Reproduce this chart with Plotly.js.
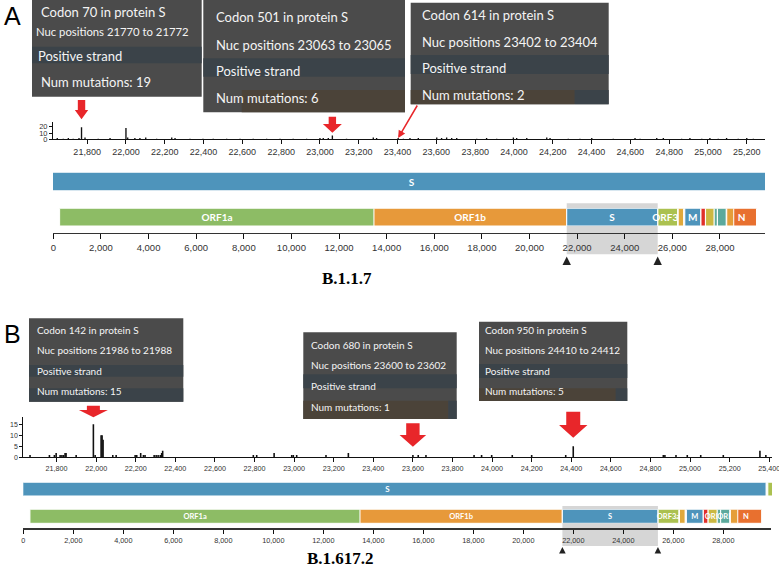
<!DOCTYPE html>
<html><head><meta charset="utf-8">
<script src="https://cdn.plot.ly/plotly-3.0.1.min.js"></script>
<style>body{margin:0;background:#fff}#chart{width:779px;height:568px}</style>
</head><body><div id="chart"></div>
<script>
// ---------- data ----------
const geneNames  = ['ORF1a','ORF1b','S','ORF3a','E','M','ORF6','ORF7a','ORF7b','ORF8','N','ORF9b'];
const geneStart  = [266, 13468, 21563, 25393, 26245, 26523, 27202, 27394, 27756, 27894, 28274, 28284];
const geneEnd    = [13483, 21555, 25384, 26220, 26472, 27191, 27387, 27759, 27887, 28259, 29533, 28577];
const geneColors = ['#8dbc65','#e7993a','#4e94bb','#abc150','#e0a93b','#4e94bb','#e0302a','#cbb842','#62ab99','#5ba99c','#e8702f','#e59e39'];
const geneLabelsA = ['ORF1a','ORF1b','S','ORF3a','','M','','','','','N',''];
const geneLabelsB = ['ORF1a','ORF1b','S','ORF3a','','M','','ORF','','ORF','N',''];
const zoomLabels  = ['','','S','','','','','','','','',''];

// B.1.1.7 mutations in S (nucleotide position, count)
const posA = [21646,21677,21703,21728,21758,21771,21789,21857,21918,22000,
              22009,22046,22072,22102,22158,22236,22253,22330,22397,22450,
              22519,22588,22656,22725,22794,22862,22931,23000,23017,23043,
              23064,23137,23275,23292,23403,23430,23464,23507,23602,23627,
              23653,23679,23705,23808,23859,23911,23997,24014,24066,24169,
              24186,24280,24340,24401,24512,24624,24650,24736,24770,24864,
              24907,24968,25010,25053,25096,25156,25200,25234];
const cntA = [2,1,2,1,2,19,3,1,2,18,
              3,2,2,3,1,3,2,1,1,1,
              1,1,1,1,1,1,1,2,2,2,
              6,1,3,2,2,1,2,2,3,2,
              3,2,2,1,2,1,3,2,2,3,
              2,1,1,2,1,2,1,2,2,1,
              2,1,2,1,2,1,2,1];
// B.1.617.2 mutations in S
const posB = [21666,21764,21789,21798,21818,21827,21835,21843,21848,21899,
              21986,21995,22025,22030,22035,22084,22101,22197,22205,22225,
              22239,22247,22293,22303,22313,22324,22331,22336,22794,22811,
              22899,22988,22996,23013,23161,23274,23600,23627,23666,23909,
              23947,23998,24102,24200,24372,24410,24865,24873,24929,24986,
              25054,25168,25353,25383];
const cntB = [1,1,1,2,1,1,1,2,2,1,
              15,1,10,10,8,1,1,1,1,2,
              1,1,1,1,1,1,2,3,1,1,
              2,1,1,1,1,2,1,1,1,1,
              1,1,1,1,1,5,1,1,1,1,
              1,1,3,1];
const yTicksA = [0,10,20];
const yTicksB = [0,5,10,15];

const tipsA = [
  ['Codon 70 in protein S','Nuc positions 21770 to 21772','Positive strand','Num mutations: 19'],
  ['Codon 501 in protein S','Nuc positions 23063 to 23065','Positive strand','Num mutations: 6'],
  ['Codon 614 in protein S','Nuc positions 23402 to 23404','Positive strand','Num mutations: 2']
];
const tipsB = [
  ['Codon 142 in protein S','Nuc positions 21986 to 21988','Positive strand','Num mutations: 15'],
  ['Codon 680 in protein S','Nuc positions 23600 to 23602','Positive strand','Num mutations: 1'],
  ['Codon 950 in protein S','Nuc positions 24410 to 24412','Positive strand','Num mutations: 5']
];

// ---------- helpers ----------
const W = 779, H = 568;
const P = x => x / W, Q = y => 1 - y / H;
const TICKF = 'Liberation Sans, Arial, sans-serif';
const LATO = 'Lato, Open Sans, sans-serif';
const RED = '#e8262a';

function geneTrace(xa, ya, labels, fs) {
  return {
    type: 'bar', orientation: 'h', xaxis: xa, yaxis: ya,
    y: geneNames.map(() => 0), base: geneStart,
    x: geneStart.map((s, i) => geneEnd[i] - s),
    width: 1, text: labels, textposition: 'inside', insidetextanchor: 'middle',
    constraintext: 'none', textangle: 0,
    textfont: {family: LATO, size: fs, color: '#ffffff', weight: 'bold'},
    marker: {color: geneColors, line: {color: '#ffffff', width: 1}},
    hoverinfo: 'skip', showlegend: false
  };
}
function mutTrace(xa, ya, pos, cnt, w) {
  return {type: 'bar', xaxis: xa, yaxis: ya, x: pos, y: cnt, width: w,
          marker: {color: '#111', line: {width: 0}}, hoverinfo: 'skip', showlegend: false};
}

const data = [
  mutTrace('x', 'y', posA, cntA, 7),
  geneTrace('x', 'y2', zoomLabels, 10),
  geneTrace('x3', 'y3', geneLabelsA, 10),
  mutTrace('x4', 'y4', posB, cntB, 8),
  geneTrace('x4', 'y5', zoomLabels, 8),
  geneTrace('x6', 'y6', geneLabelsB, 7.5)
];

const shapes = [];
const annotations = [];

function tooltip(box, bands, tx, ys, sizes, lines) {
  shapes.push({type: 'rect', xref: 'paper', yref: 'paper', x0: P(box[0]), x1: P(box[2]),
    y0: Q(box[3]), y1: Q(box[1]), fillcolor: '#4b4b4b', line: {width: 0}, layer: 'above'});
  bands.forEach(b => shapes.push({type: 'rect', xref: 'paper', yref: 'paper',
    x0: P(b[0]), x1: P(b[2]), y0: Q(b[3]), y1: Q(b[1]), fillcolor: b[4], line: {width: 0}, layer: 'above'}));
  lines.forEach((t, i) => annotations.push({xref: 'paper', yref: 'paper', x: P(Array.isArray(tx) ? tx[i] : tx),
    y: Q(ys[i]), xanchor: 'left', yanchor: 'middle', showarrow: false, text: t,
    font: {family: LATO, size: sizes[i], color: '#f4f4f4'}}));
}
const BLUE = '#3b4349', BROWN = '#4b4339';
tooltip([32,0,201.7,96.7], [[32,46.7,201.7,63.3,BLUE]], [38.5,34,36,38.5], [11.7,31.7,55.7,81.7], [13,11.3,13,13], tipsA[0]);
tooltip([203.3,0,405,112.3], [[203.3,58.3,405,76.7,BLUE],[241.7,90,405,112.3,BROWN]], 213.5, [16.7,45,70.7,98.3], [13,13,13,13], tipsA[1]);
tooltip([410.7,2.7,608.7,104.3], [[410.7,55,608.7,74,BLUE],[410.7,90,574.7,104.3,BROWN],[574.7,90,608.7,104.3,BLUE]], 420, [15,41.7,67.7,95], [13,13,13,13], tipsA[2]);
tooltip([29,318.3,183.3,401.7], [[29,365,183.3,376.7,BLUE],[29,388.3,183.3,401.7,BLUE]], 34.5, [330,350,371,391], [10,10,10,10], tipsB[0]);
tooltip([303.3,332.3,456.7,419], [[303.3,374.3,456.7,388.3,BLUE],[303.3,400.7,448.3,419,BROWN],[448.3,400.7,456.7,419,BLUE]], 308.5, [345,365.3,386,407], [10,10,10,10], tipsB[1]);
tooltip([479,321.7,627.3,401], [[479,364,627.3,378,BLUE],[479,388.3,615.7,401,BROWN],[615.7,388.3,627.3,401,BLUE]], 483, [330,350,371,391], [10,10,10,10], tipsB[2]);

function fatArrow(xa, xpos, tipY, headH, headW, shaftW, totalH) {
  const p = `M 0 0 L ${-headW} ${headH} L ${-shaftW} ${headH} L ${-shaftW} ${totalH} L ${shaftW} ${totalH} L ${shaftW} ${headH} L ${headW} ${headH} Z`;
  shapes.push({type: 'path', xref: xa, xsizemode: 'pixel', xanchor: xpos,
    yref: 'paper', ysizemode: 'pixel', yanchor: Q(tipY), path: p,
    fillcolor: RED, line: {width: 0}, layer: 'above'});
}
fatArrow('x', 21771, 119.3, 9.3, 6.7, 3.7, 19.3);
fatArrow('x', 23064, 132.7, 8.7, 9.5, 3.7, 16);
fatArrow('x4', 21986, 417.3, 7.3, 14.5, 6.5, 11.5);
fatArrow('x4', 23600, 446.7, 11.7, 13.3, 6.7, 23.4);
fatArrow('x4', 24410, 437.7, 12.7, 14.2, 7, 26);
annotations.push({xref: 'x', yref: 'paper', x: 23403, y: Q(138), ax: 20, ay: -34,
  showarrow: true, arrowcolor: RED, arrowwidth: 1.5, arrowhead: 2, arrowsize: 1, standoff: 0, text: ''});

function highlight(xa, y0, y1, triY, triS) {
  shapes.push({type: 'rect', xref: xa, yref: 'paper', x0: geneStart[2], x1: geneEnd[2],
    y0: Q(y1), y1: Q(y0), fillcolor: '#d6d6d6', line: {width: 0}, layer: 'below'});
  [geneStart[2], geneEnd[2]].forEach(v => shapes.push({type: 'path', xref: xa, xsizemode: 'pixel', xanchor: v,
    yref: 'paper', ysizemode: 'pixel', yanchor: Q(triY),
    path: `M ${-triS} ${-triS} L ${triS} ${-triS} L 0 ${triS} Z`, fillcolor: '#222', line: {width: 0}}));
}
highlight('x3', 203.3, 254.3, 260.7, 4.2);
highlight('x6', 506, 546, 550.3, 3.3);

annotations.push({xref: 'paper', yref: 'paper', x: P(2), y: Q(16), xanchor: 'left', yanchor: 'middle',
  showarrow: false, text: 'A', font: {family: TICKF, size: 25, color: '#000'}});
annotations.push({xref: 'paper', yref: 'paper', x: P(2), y: Q(334), xanchor: 'left', yanchor: 'middle',
  showarrow: false, text: 'B', font: {family: TICKF, size: 25, color: '#000'}});
annotations.push({xref: 'paper', yref: 'paper', x: P(347.3), y: Q(278.3), xanchor: 'center', yanchor: 'middle',
  showarrow: false, text: '<b>B.1.1.7</b>', font: {family: 'Liberation Serif, Times New Roman, serif', size: 17, color: '#000'}});
annotations.push({xref: 'paper', yref: 'paper', x: P(340.5), y: Q(558.5), xanchor: 'center', yanchor: 'middle',
  showarrow: false, text: '<b>B.1.617.2</b>', font: {family: 'Liberation Serif, Times New Roman, serif', size: 17, color: '#000'}});

function xAx(dom, range, anchor, dtick, fs, extra) {
  return Object.assign({domain: dom, range: range, anchor: anchor, tick0: 0, dtick: dtick, tickformat: ',d',
    ticks: 'outside', ticklen: 4, tickwidth: 1, tickcolor: '#111', showline: true, linecolor: '#111', linewidth: 1,
    showgrid: false, zeroline: false, fixedrange: true, ticklabeloverflow: 'allow',
    tickfont: {family: TICKF, size: fs, color: '#333'}}, extra || {});
}
function yHidden(dom, anchor) {
  return {domain: dom, range: [-0.5, 0.5], anchor: anchor, visible: false, fixedrange: true};
}

const layout = {
  width: W, height: H, margin: {l: 0, r: 0, t: 0, b: 0},
  paper_bgcolor: '#ffffff', plot_bgcolor: 'rgba(0,0,0,0)',
  barmode: 'overlay', showlegend: false, hovermode: false,
  xaxis:  xAx([P(53), P(765)], [21624, 25294], 'y', 200, 9),
  yaxis:  {domain: [Q(139.3), Q(121.7)], range: [0, 28], anchor: 'x', tickvals: yTicksA,
           ticks: 'outside', ticklen: 3, tickcolor: '#111', showline: true, linecolor: '#111', linewidth: 1,
           showgrid: false, zeroline: false, fixedrange: true, tickfont: {family: TICKF, size: 7.5, color: '#333'}},
  yaxis2: yHidden([Q(190.7), Q(172.3)], 'x'),
  xaxis3: xAx([P(53.3), P(765.3)], [0, 29903], 'free', 2000, 9.5, {position: Q(232.7), ticklen: 5, linewidth: 1.5, linecolor: '#333'}),
  yaxis3: yHidden([Q(226), Q(208.3)], 'x3'),
  xaxis4: xAx([P(23.3), P(772)], [21632, 25414], 'y4', 200, 7.2),
  yaxis4: {domain: [Q(457.3), Q(417.3)], range: [0, 18.2], anchor: 'x4', tickvals: yTicksB,
           ticks: 'outside', ticklen: 3, tickcolor: '#111', showline: true, linecolor: '#111', linewidth: 1,
           showgrid: false, zeroline: false, fixedrange: true, tickfont: {family: TICKF, size: 7, color: '#333'}},
  yaxis5: yHidden([Q(496), Q(482.3)], 'x4'),
  xaxis6: xAx([P(23.3), P(770.9)], [0, 29903], 'free', 2000, 7.3, {position: Q(528.3), ticklen: 4, linewidth: 1.5, linecolor: '#333'}),
  yaxis6: yHidden([Q(523.3), Q(509.3)], 'x6'),
  shapes: shapes, annotations: annotations
};

Plotly.newPlot('chart', data, layout, {displayModeBar: false, staticPlot: true});
</script></body></html>
